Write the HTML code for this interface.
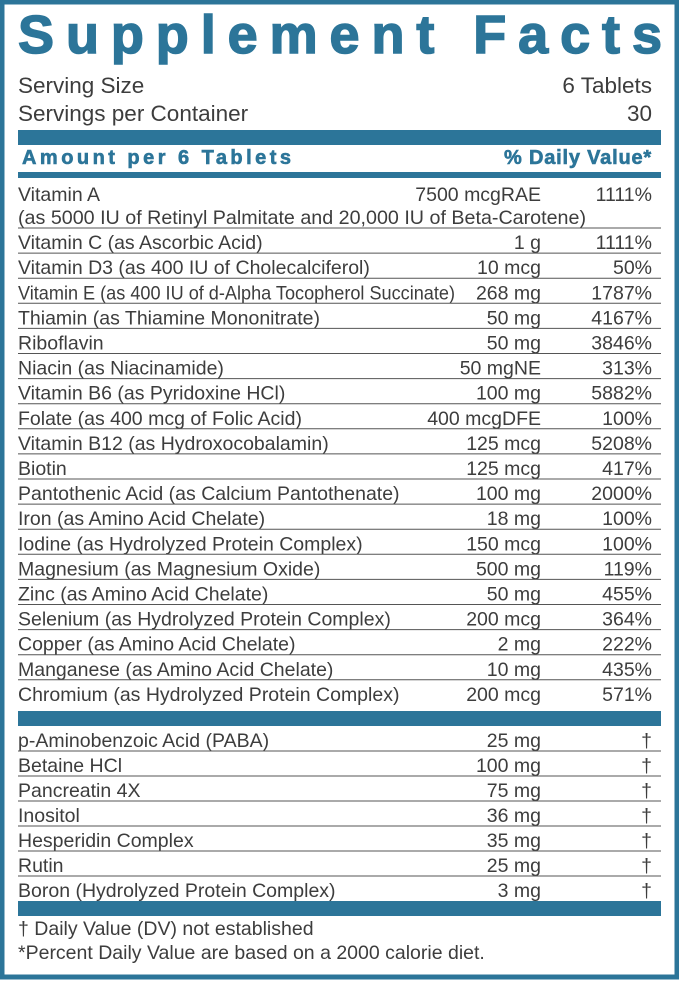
<!DOCTYPE html>
<html><head><meta charset="utf-8"><style>
html,body{margin:0;padding:0;background:#fff;width:679px;height:984px;overflow:hidden}
svg{display:block;font-family:"Liberation Sans",Arial,sans-serif}
</style></head><body>
<svg id="lab" width="679" height="984" viewBox="0 0 679 984">
<rect x="2" y="2" width="675" height="975" fill="#fff" stroke="#2c7599" stroke-width="5"/>
<text x="18" y="53" font-size="54" font-weight="bold" fill="#2c7599" stroke="#2c7599" stroke-width="1.5" textLength="644" lengthAdjust="spacing">Supplement Facts</text>
<text x="18" y="93" font-size="22.5" fill="#3d3d3d">Serving Size</text>
<text x="652" y="93" font-size="22.5" fill="#3d3d3d" text-anchor="end">6 Tablets</text>
<text x="18" y="121" font-size="22.5" fill="#3d3d3d">Servings per  Container</text>
<text x="652" y="121" font-size="22.5" fill="#3d3d3d" text-anchor="end">30</text>
<rect x="18" y="130" width="643" height="15" fill="#2c7599"/>
<text x="22" y="164" font-size="20" font-weight="bold" fill="#2c7599" stroke="#2c7599" stroke-width="0.6" textLength="269" lengthAdjust="spacing">Amount per 6 Tablets</text>
<text x="652" y="164" font-size="20" font-weight="bold" fill="#2c7599" stroke="#2c7599" stroke-width="0.6" text-anchor="end" letter-spacing="0.8">% Daily Value*</text>
<rect x="18" y="172" width="643" height="6" fill="#2c7599"/>
<text x="18" y="201" font-size="19.5" fill="#3d3d3d">Vitamin A</text>
<text x="541" y="201" font-size="19.5" fill="#3d3d3d" text-anchor="end">7500 mcgRAE</text>
<text x="652" y="201" font-size="19.5" fill="#3d3d3d" text-anchor="end">1111%</text>
<text x="18" y="224" font-size="19.5" fill="#3d3d3d" textLength="568" lengthAdjust="spacingAndGlyphs">(as 5000 IU of Retinyl Palmitate and 20,000 IU of Beta-Carotene)</text>
<line x1="18" y1="228" x2="661" y2="228" stroke="#555" stroke-width="1"/>
<g id="rows1"></g>
<rect x="18" y="711" width="643" height="15" fill="#2c7599"/>
<g id="rows2"></g>
<rect x="18" y="901" width="643" height="15" fill="#2c7599"/>
<text x="18" y="935" font-size="19.5" fill="#3d3d3d">† Daily Value (DV) not established</text>
<text x="18" y="959" font-size="19.5" fill="#3d3d3d">*Percent Daily Value are based on a 2000 calorie diet.</text>
</svg>
<script>
const names1=["Vitamin C (as Ascorbic Acid)","Vitamin D3 (as 400 IU of Cholecalciferol)","Vitamin E (as 400 IU of d-Alpha Tocopherol Succinate)","Thiamin (as Thiamine Mononitrate)","Riboflavin","Niacin (as Niacinamide)","Vitamin B6 (as Pyridoxine HCl)","Folate (as 400 mcg of Folic Acid)","Vitamin B12 (as Hydroxocobalamin)","Biotin","Pantothenic Acid (as Calcium Pantothenate)","Iron (as Amino Acid Chelate)","Iodine (as Hydrolyzed Protein Complex)","Magnesium (as Magnesium Oxide)","Zinc (as Amino Acid Chelate)","Selenium (as Hydrolyzed Protein Complex)","Copper (as Amino Acid Chelate)","Manganese (as Amino Acid Chelate)","Chromium (as Hydrolyzed Protein Complex)"];
const amounts1=["1 g","10 mcg","268 mg","50 mg","50 mg","50 mgNE","100 mg","400 mcgDFE","125 mcg","125 mcg","100 mg","18 mg","150 mcg","500 mg","50 mg","200 mcg","2 mg","10 mg","200 mcg"];
const dv1=["1111%","50%","1787%","4167%","3846%","313%","5882%","100%","5208%","417%","2000%","100%","100%","119%","455%","364%","222%","435%","571%"];
const names2=["p-Aminobenzoic Acid (PABA)","Betaine HCl","Pancreatin 4X","Inositol","Hesperidin Complex","Rutin","Boron (Hydrolyzed Protein Complex)"];
const amounts2=["25 mg","100 mg","75 mg","36 mg","35 mg","25 mg","3 mg"];
const NS="http://www.w3.org/2000/svg";
function mk(tag,attrs,parent){const e=document.createElementNS(NS,tag);for(const k in attrs)e.setAttribute(k,attrs[k]);parent.appendChild(e);return e;}
function txt(parent,x,y,s,anchor){const t=mk("text",{x:x,y:y,"font-size":19.5,fill:"#3d3d3d","text-anchor":anchor},parent);t.textContent=s;return t;}
function build(g,top,h,names,amts,dvs,lastLine){
  names.forEach((n,i)=>{
    const bot=top+(i+1)*h;const by=bot-4;
    const a=txt(g,18,by,n,"start");
    
    
    if(n.length>50){a.setAttribute('textLength','437');a.setAttribute('lengthAdjust','spacingAndGlyphs');}
    const b=txt(g,541,by,amts[i],"end");
    
    
    const c=txt(g,652,by,dvs?dvs[i]:"†","end");
    
    
    if(i<names.length-1||lastLine){
      const l=mk("line",{x1:18,x2:661,y1:bot,y2:bot,stroke:"#555","stroke-width":1},g);
      
      
    }
  });
}
build(document.getElementById('rows1'),228,25.1,names1,amounts1,dv1,false);
build(document.getElementById('rows2'),726,25,names2,amounts2,null,false);
</script>
</body></html>
